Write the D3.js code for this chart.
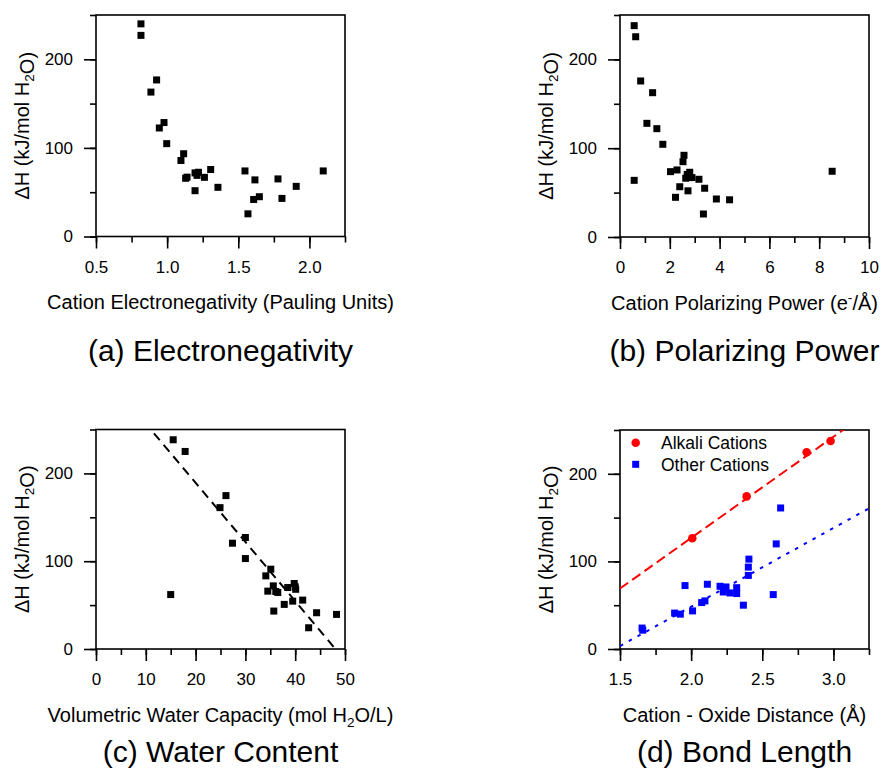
<!DOCTYPE html>
<html><head><meta charset="utf-8">
<script src="https://cdn.jsdelivr.net/npm/d3@7"></script>
<style>
body{margin:0;background:#fff}
text{font-family:"Liberation Sans",Arial,Helvetica,sans-serif;fill:#000}
</style>
</head><body>
<svg id="chart" width="883" height="771"></svg>
<script>
// ---------- data ----------
const yMajorTicks = [0, 100, 200];
const yMinorTicks = [0, 50, 100, 150, 200, 250];

// (a) Electronegativity
const enTicksMajor = [0.5, 1.0, 1.5, 2.0];
const enTicksMinor = [0.5, 0.75, 1.0, 1.25, 1.5, 1.75, 2.0, 2.25];
const enX = [0.816,0.816,0.926,0.886,0.978,0.945,0.997,1.116,1.097,1.13,1.14,1.196,1.22,1.21,1.262,1.306,1.196,1.357,1.547,1.617,1.568,1.608,1.648,1.779,1.807,1.907,2.097];
const enY = [240,227,176.7,163,128.6,122.5,104.8,93.4,85.8,65.7,67,71.8,72.5,69,66.8,75.6,51.7,55.5,74,63.9,25.6,41.8,44.9,65,43,56.6,74];

// (b) Polarizing power
const ppTicksMajor = [0, 2, 4, 6, 8, 10];
const ppTicksMinor = [0,1,2,3,4,5,6,7,8,9,10];
const ppX = [0.57,0.63,0.83,1.31,1.08,1.48,1.72,0.57,2.57,2.53,2.03,2.29,2.8,2.7,2.64,2.89,3.17,2.4,2.73,2.23,3.4,3.35,3.87,4.4,8.52];
const ppY = [238,225.5,175.7,162.5,128,122,104.4,63.8,92,84.8,73.6,75.5,72.9,70.5,66.2,66.9,65,56.6,52,44.7,54.9,25.9,42.8,41.9,74];

// (c) Water content
const wcTicksMajor = [0, 10, 20, 30, 40, 50];
const wcTicksMinor = [0,5,10,15,20,25,30,35,40,45,50];
const wcX = [15.5,17.9,26.1,24.9,30,27.4,30,35.1,34.1,15,35.6,34.5,36.5,36.1,38.5,40,39.8,37.8,39.5,41.5,35.7,44.3,48.3,42.7,40.1];
const wcY = [238.3,225,174.7,161,127,120.5,103,90.9,83.3,62,71.9,65.9,64.4,65.5,70,70.8,74.6,50.8,54.5,55.7,43.2,41.3,39.4,24.2,68];
const wcFit = {slope: -6.74, intercept: 324.1};

// (d) Bond length
const blTicksMajor = [1.5, 2.0, 2.5, 3.0];
const blTicksMinor = [1.5,1.75,2.0,2.25,2.5,2.75,3.0,3.25];
const alkaliX = [2.008, 2.39, 2.812, 2.98];
const alkaliY = [126.5, 174.2, 224.6, 237.5];
const otherX = [1.655,1.66,1.884,1.924,1.957,2.01,2.074,2.097,2.114,2.203,2.245,2.32,2.226,2.273,2.32,2.367,2.402,2.402,2.406,2.577,2.598,2.629];
const otherY = [23.9,21.5,41,39.8,72.4,43.5,53,54.9,73.9,71.6,70.8,70,65.1,64,63.3,50,84,93.5,102.6,62.1,120,161];
const alkaliFit = {slope: 115.5, intercept: -104.25};
const otherFit = {slope: 89.8, intercept: -131.3};
const legendLabels = ["Alkali Cations", "Other Cations"];

// ---------- drawing ----------
const svg = d3.select("#chart");
const dHTitle = [{t:"\u0394H (kJ/mol H"},{t:"2",sub:true},{t:"O)"}];

function richText(sel, parts, size){
  parts.forEach(p=>{
    if(p.sub){
      sel.append("tspan").attr("dy",5).attr("font-size",size*0.68).text(p.t);
    } else if(p.sup){
      sel.append("tspan").attr("dy",-8).attr("font-size",size*0.68).text(p.t);
    } else {
      const ts = sel.append("tspan").text(p.t);
      if(p.after==="sub") ts.attr("dy",-5);
      if(p.after==="sup") ts.attr("dy",8);
    }
  });
}

let clipId = 0;
function panel(cfg){
  const g = svg.append("g");
  const x = d3.scaleLinear().domain(cfg.xDomain).range([cfg.left, cfg.right]);
  const y = d3.scaleLinear().domain([0,250]).range([cfg.bottom, cfg.top]);
  const id = "clip"+(clipId++);
  svg.append("clipPath").attr("id",id).append("rect")
    .attr("x",cfg.left).attr("y",cfg.top).attr("width",cfg.right-cfg.left).attr("height",cfg.bottom-cfg.top);

  // minor ticks
  const xMin = g.append("g").attr("transform",`translate(0,${cfg.bottom})`)
    .call(d3.axisBottom(x).tickValues(cfg.xMinor).tickSize(6).tickFormat(""));
  const xMaj = g.append("g").attr("transform",`translate(0,${cfg.bottom})`)
    .call(d3.axisBottom(x).tickValues(cfg.xMajor).tickSize(12).tickPadding(12).tickFormat(cfg.xFmt));
  const yMin = g.append("g").attr("transform",`translate(${cfg.left},0)`)
    .call(d3.axisLeft(y).tickValues(yMinorTicks).tickSize(6).tickFormat(""));
  const yMaj = g.append("g").attr("transform",`translate(${cfg.left},0)`)
    .call(d3.axisLeft(y).tickValues(yMajorTicks).tickSize(12).tickPadding(11).tickFormat(d3.format("d")));
  [xMin,xMaj,yMin,yMaj].forEach(a=>{
    a.select(".domain").remove();
    a.selectAll("line").attr("stroke","#000").attr("stroke-width",1.6);
    a.selectAll("text").attr("font-size",17).attr("font-family","Liberation Sans, Arial, sans-serif").attr("fill","#000");
  });
  // frame
  g.append("rect").attr("x",cfg.left).attr("y",cfg.top).attr("width",cfg.right-cfg.left).attr("height",cfg.bottom-cfg.top)
    .attr("fill","none").attr("stroke","#000").attr("stroke-width",1.6);

  // axis titles
  const xt = g.append("text").attr("x",(cfg.left+cfg.right)/2).attr("y",cfg.bottom+72.5)
    .attr("text-anchor","middle").attr("font-size",20);
  richText(xt, cfg.xTitle, 20);
  const yt = g.append("text").attr("transform",`translate(${cfg.left-67},${(cfg.top+cfg.bottom)/2}) rotate(-90)`)
    .attr("text-anchor","middle").attr("font-size",20);
  richText(yt, dHTitle, 20);
  // panel title
  g.append("text").attr("x",(cfg.left+cfg.right)/2).attr("y",cfg.titleY)
    .attr("text-anchor","middle").attr("font-size",30).text(cfg.title);

  const plot = g.append("g").attr("clip-path",`url(#${id})`);
  // fit lines
  (cfg.fits||[]).forEach(f=>{
    const xs = cfg.xDomain;
    plot.append("line")
      .attr("x1",x(xs[0])).attr("y1",y(f.fit.intercept+f.fit.slope*xs[0]))
      .attr("x2",x(xs[1])).attr("y2",y(f.fit.intercept+f.fit.slope*xs[1]))
      .attr("stroke",f.color).attr("stroke-width",2).attr("stroke-dasharray",f.dash);
  });
  // points
  cfg.series.forEach(s=>{
    const data = s.xs.map((v,i)=>[v,s.ys[i]]);
    if(s.shape==="circle"){
      g.selectAll(null).data(data).enter().append("circle")
        .attr("cx",d=>x(d[0])).attr("cy",d=>y(d[1])).attr("r",4.3).attr("fill",s.color);
    } else {
      g.selectAll(null).data(data).enter().append("rect")
        .attr("x",d=>x(d[0])-3.5).attr("y",d=>y(d[1])-3.5).attr("width",7).attr("height",7).attr("fill",s.color);
    }
  });
  // legend
  if(cfg.legend){
    cfg.legend.forEach((l,i)=>{
      const cy = cfg.top+12.7+i*21.6;
      if(l.shape==="circle") g.append("circle").attr("cx",cfg.left+15.7).attr("cy",cy).attr("r",4.3).attr("fill",l.color);
      else g.append("rect").attr("x",cfg.left+12.2).attr("y",cy-3.5).attr("width",7).attr("height",7).attr("fill",l.color);
      g.append("text").attr("x",cfg.left+41).attr("y",cy+6.2).attr("font-size",17.5).text(l.label);
    });
  }
}

panel({left:96,right:345,top:15,bottom:236.5,titleY:361,
  xDomain:[0.5,2.25],xMajor:enTicksMajor,xMinor:enTicksMinor,xFmt:d3.format(".1f"),
  xTitle:[{t:"Cation Electronegativity (Pauling Units)"}],
  title:"(a) Electronegativity",
  series:[{xs:enX,ys:enY,shape:"square",color:"#000"}]});

panel({left:620,right:869,top:15,bottom:237,titleY:361,
  xDomain:[0,10],xMajor:ppTicksMajor,xMinor:ppTicksMinor,xFmt:d3.format("d"),
  xTitle:[{t:"Cation Polarizing Power (e"},{t:"-",sup:true},{t:"/\u00C5)",after:"sup"}],
  title:"(b) Polarizing Power",
  series:[{xs:ppX,ys:ppY,shape:"square",color:"#000"}]});

panel({left:96,right:345,top:429.5,bottom:649,titleY:762,
  xDomain:[0,50],xMajor:wcTicksMajor,xMinor:wcTicksMinor,xFmt:d3.format("d"),
  xTitle:[{t:"Volumetric Water Capacity (mol H"},{t:"2",sub:true},{t:"O/L)",after:"sub"}],
  title:"(c) Water Content",
  fits:[{fit:wcFit,color:"#000",dash:"9,6"}],
  series:[{xs:wcX,ys:wcY,shape:"square",color:"#000"}]});

panel({left:620,right:869,top:430,bottom:649,titleY:762,
  xDomain:[1.5,3.25],xMajor:blTicksMajor,xMinor:blTicksMinor,xFmt:d3.format(".1f"),
  xTitle:[{t:"Cation - Oxide Distance (\u00C5)"}],
  title:"(d) Bond Length",
  fits:[{fit:alkaliFit,color:"#ff0000",dash:"10,5"},{fit:otherFit,color:"#0000ff",dash:"3.5,6.5"}],
  series:[{xs:alkaliX,ys:alkaliY,shape:"circle",color:"#ff0000"},{xs:otherX,ys:otherY,shape:"square",color:"#0000ff"}],
  legend:[{label:legendLabels[0],shape:"circle",color:"#ff0000"},{label:legendLabels[1],shape:"square",color:"#0000ff"}]});
</script>
</body></html>
